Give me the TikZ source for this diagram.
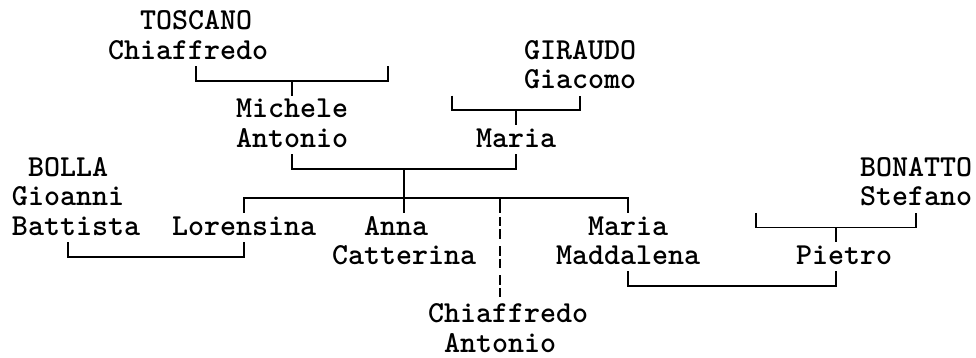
\documentclass[tikz,border=0pt]{standalone}
\begin{document}
\begin{tikzpicture}[x=1pt,y=-1pt,
  person/.style={anchor=base west,inner sep=0pt,outer sep=0pt,font=\ttfamily\bfseries\fontsize{30.5}{30.5}\selectfont},
  link/.style={line width=1.6pt,line cap=butt,line join=miter},
  dashlink/.style={line width=1.6pt,dash pattern=on 9.5pt off 3pt on 9.5pt off 7.3pt,dash phase=25.3pt}]
\useasboundingbox (0,0) rectangle (976,358);
% names (column x = 12+16c, baseline y = 29.9+29.3r)
\node[person] (toscano) at (140,29.9) {TOSCANO};
\node[person] (chiaf1) at (108,59.2) {Chiaffredo};
\node[person] (giraudo) at (524,59.2) {GIRAUDO};
\node[person] (giacomo) at (524,88.5) {Giacomo};
\node[person] (michele) at (236,117.8) {Michele};
\node[person] (antonio1) at (236,147.1) {Antonio};
\node[person] (maria1) at (476,147.1) {Maria};
\node[person] (bolla) at (28,176.4) {BOLLA};
\node[person] (bonatto) at (860,176.4) {BONATTO};
\node[person] (gioanni) at (12,205.7) {Gioanni};
\node[person] (stefano) at (860,205.7) {Stefano};
\node[person] (battista) at (12,235.0) {Battista};
\node[person] (lorensina) at (172,235.0) {Lorensina};
\node[person] (anna) at (364,235.0) {Anna};
\node[person] (maria2) at (588,235.0) {Maria};
\node[person] (catterina) at (332,264.3) {Catterina};
\node[person] (maddalena) at (556,264.3) {Maddalena};
\node[person] (pietro) at (796,264.3) {Pietro};
\node[person] (chiaf2) at (428,322.9) {Chiaffredo};
\node[person] (antonio2) at (444,352.2) {Antonio};
% TOSCANO couple -> Michele Antonio
\coordinate (t1) at (196,66.35); \coordinate (t2) at (388,66.35);
\coordinate (t3) at (292,81); \coordinate (t4) at (292,95.65);
\draw[link] (t1) |- (t3) -| (t2);
\draw[link] (t3) -- (t4);
% GIRAUDO couple -> Maria
\coordinate (g1) at (452,95.65); \coordinate (g2) at (580,95.65);
\coordinate (g3) at (516,110.3); \coordinate (g4) at (516,124.95);
\draw[link] (g1) |- (g3) -| (g2);
\draw[link] (g3) -- (g4);
% Michele Antonio + Maria -> children
\coordinate (m1) at (292,154.25); \coordinate (m2) at (516,154.25);
\coordinate (m3) at (404,168.9); \coordinate (m4) at (404,212.85);
\draw[link] (m1) |- (m3) -| (m2);
\draw[link] (m3) -- (m4);
% sibling bar
\coordinate (s1) at (244,198.2); \coordinate (s2) at (628,198.2);
\coordinate (s1b) at (244,212.85); \coordinate (s2b) at (628,212.85);
\coordinate (s3) at (500,198.2); \coordinate (s3b) at (500,212.85);
\coordinate (s3c) at (500,300.75);
\draw[link] (s1b) -- (s1) -- (s2) -- (s2b);
\draw[link] (s3) -- (s3b);
\draw[dashlink] (s3b) -- (s3c);
% BOLLA + Lorensina
\coordinate (b1) at (68,242.15); \coordinate (b2) at (244,242.15);
\coordinate (b3) at (156,256.8);
\draw[link] (b1) |- (b3) -| (b2);
% BONATTO couple -> Pietro
\coordinate (n1) at (756,212.85); \coordinate (n2) at (916,212.85);
\coordinate (n3) at (836,227.5); \coordinate (n4) at (836,242.15);
\draw[link] (n1) |- (n3) -| (n2);
\draw[link] (n3) -- (n4);
% Maria Maddalena + Pietro
\coordinate (p1) at (628,271.45); \coordinate (p2) at (836,271.45);
\coordinate (p3) at (732,286.1);
\draw[link] (p1) |- (p3) -| (p2);
\end{tikzpicture}
\end{document}
